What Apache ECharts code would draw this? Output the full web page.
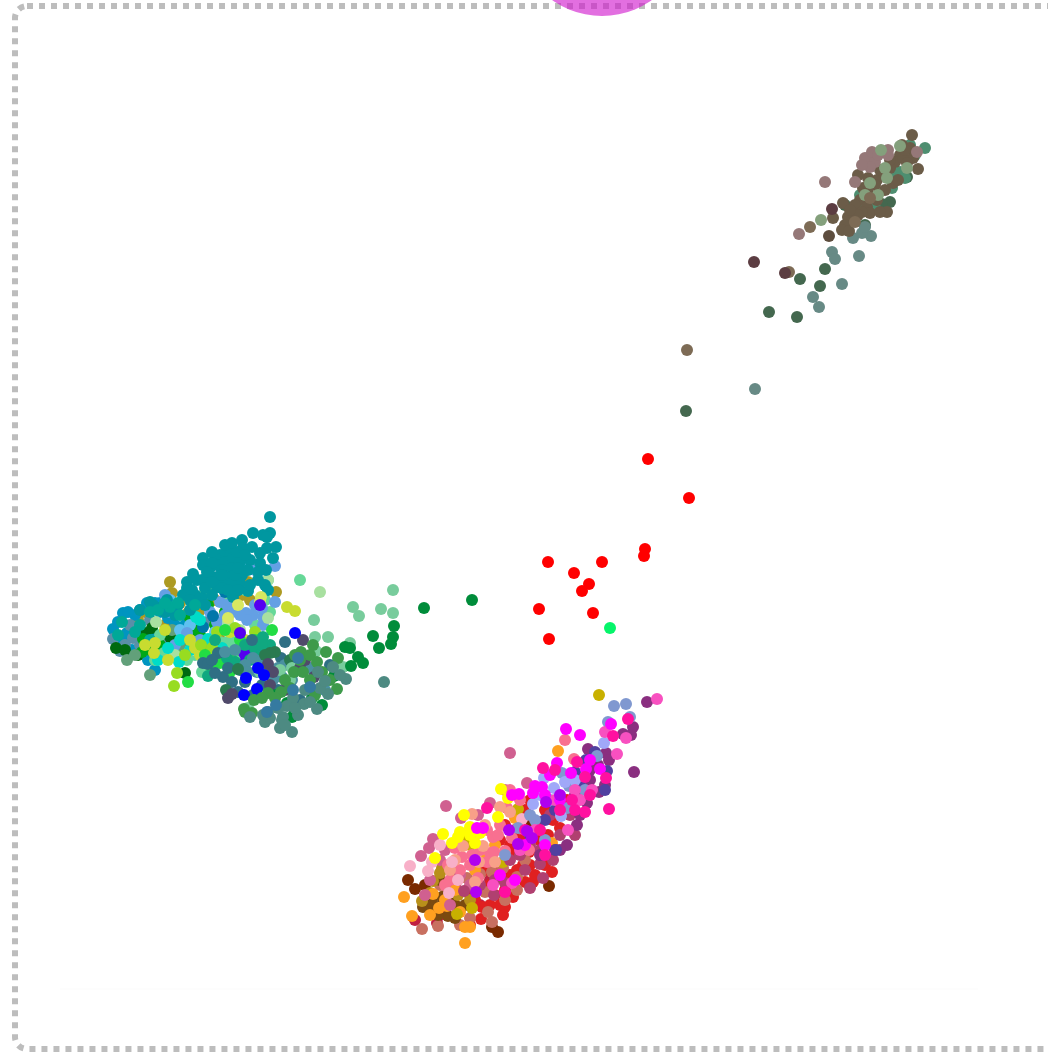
<!DOCTYPE html>
<html><head><meta charset="utf-8">
<style>html,body{margin:0;padding:0;background:#fff}#c{width:1048px;height:1052px}</style>
<script src="https://cdn.jsdelivr.net/npm/echarts@6/dist/echarts.min.js"></script></head>
<body><div id="c"></div>
<script>
// Left cluster, bottom layers
const gold=[[170,582],[172,593],[180,603],[188,622],[138,620],[174,647],[152,622],[207,647],[188,613],[276,592],[242,595],[248,582],[195,635],[215,600],[160,640],[145,612],[130,635],[220,640],[250,600],[178,632],[235,630],[200,610],[165,625]];
const ocean=[[123,613],[113,629],[122,639],[152,632],[168,618],[140,610],[147,603],[142,650],[127,633],[155,603],[135,615],[185,625],[160,612],[118,622],[132,650],[148,640],[175,625],[128,612],[138,628],[160,603],[148,660],[155,670]];
const slateTeal=[[113,639],[133,638],[120,651],[130,625],[150,620],[165,640],[125,645],[180,640],[195,625],[140,645],[205,640],[215,650],[210,620]];
const darkGreen=[[145,633],[116,648],[138,655],[170,637],[185,673],[152,628],[125,650]];
const leafGreen=[[143,639],[142,652],[208,605],[197,630],[185,640],[215,625],[235,610],[160,645],[175,650],[200,635],[225,612],[150,650],[190,618]];
const sage=[[127,660],[150,675],[172,630],[180,645],[135,655]];
const mint=[[300,580],[160,635],[164,653],[187,660],[202,672],[227,642],[220,642],[235,642],[212,590],[225,600],[268,580],[240,655],[265,600],[155,660],[195,655],[230,650],[255,625],[270,612],[205,592],[245,590],[215,660]];
const paleGreen=[[156,622],[193,650],[228,622],[320,592],[268,618],[175,655],[240,630],[268,580]];
const aqua=[[158,660],[179,662],[180,640],[208,639],[196,617],[240,568],[190,650],[168,648],[200,620],[222,648]];
const cornflower=[[227,605],[220,602],[246,613],[253,615],[263,625],[217,622],[187,633],[263,617],[275,602],[247,620],[275,566],[255,570],[240,615],[165,595],[200,640],[240,568],[255,605],[232,612],[210,612],[262,608],[195,642],[175,645],[225,615],[170,612]];
const skyBlue=[[180,630],[242,568],[170,600],[212,578],[190,625],[215,632]];
const deepBlue=[[213,616],[203,627],[225,592],[238,590]];
const chartreuse=[[154,653],[155,643],[287,607],[295,611],[200,655],[165,630],[245,640],[190,640],[168,660],[215,640],[230,632],[195,648],[145,645]];
const lime=[[177,673],[174,686],[217,632],[255,632],[201,645],[212,648],[185,655],[235,628]];
const brightGreen=[[188,682],[220,663],[272,630],[230,672],[246,647],[205,655],[240,650],[225,630],[260,640],[212,668],[255,640],[268,650],[240,640],[232,660]];
const lemon=[[261,597],[238,605],[260,602],[228,618]];
const tealMain=[[270,517],[270,533],[263,535],[253,533],[267,537],[242,540],[276,547],[267,548],[260,553],[273,558],[252,547],[243,548],[230,548],[228,553],[220,555],[215,558],[203,558],[203,565],[217,565],[225,562],[233,558],[240,562],[210,568],[222,570],[232,568],[242,575],[217,577],[228,577],[210,577],[193,574],[202,580],[187,582],[187,588],[183,595],[217,587],[223,585],[233,583],[240,583],[260,563],[266,570],[258,580],[265,585],[248,591],[233,597],[202,598],[195,595],[222,588],[167,600],[158,608],[150,602],[140,610],[153,605],[178,605],[190,610],[205,605],[175,615],[212,563],[237,552],[250,560],[248,570],[235,575],[225,545],[232,543],[207,572],[197,580],[192,590],[205,588],[212,582],[222,575],[238,568],[245,555],[228,590],[212,595],[190,600],[172,608],[165,612],[212,552],[258,572],[250,585],[268,590],[238,590]];
const teal=[[140,625],[158,610],[122,622],[170,607],[178,603],[150,640],[135,632],[150,612],[180,615],[118,635],[165,603],[195,605]];
const violet=[[240,633],[260,605],[244,653],[244,663],[252,648]];
// Lower right lobe of left cluster
const greenTeal=[[263,637],[255,649],[227,658],[208,676],[262,652],[270,645],[215,640],[245,645],[235,662],[250,660],[262,645]];
const petrol=[[285,642],[218,653],[203,663],[208,664],[223,677],[232,682],[215,673],[252,640],[281,658],[240,670],[253,695],[228,668],[212,660],[245,682],[262,685],[278,690],[238,692],[300,700],[330,665]];
const steel=[[253,658],[260,665],[257,672],[282,677],[273,680],[235,650],[262,660],[285,665],[268,670],[245,665],[248,672],[225,652],[278,668],[292,680],[325,690],[310,668]];
const pine=[[275,652],[270,653],[238,669],[226,690],[265,655],[290,660]];
const mintSoft=[[393,590],[353,607],[359,616],[381,609],[393,613],[314,620],[315,637],[328,637],[316,651],[343,667],[350,643],[292,668],[248,708],[260,672],[290,680],[300,670],[280,670]];
const navy=[[228,698],[232,694],[303,640],[268,664],[273,672],[314,677],[300,668],[270,685],[285,690],[305,660]];
const blue=[[295,633],[246,678],[244,695],[257,689],[264,675],[258,668]];
const forest=[[301,652],[294,672],[303,672],[322,672],[317,662],[290,688],[281,692],[268,693],[254,700],[262,698],[244,709],[252,713],[326,652],[337,689],[338,658],[313,645],[300,660],[310,680],[330,680],[285,680],[315,695],[275,698],[295,655],[310,655],[245,712]];
const emerald=[[394,626],[393,637],[391,644],[373,636],[379,648],[345,647],[350,648],[358,657],[363,663],[351,666],[334,676],[312,698],[292,717],[276,695],[322,705],[287,703],[424,608],[472,600],[295,712]];
const grayTeal=[[292,732],[280,728],[265,722],[270,718],[250,717],[283,717],[298,715],[317,709],[304,704],[328,694],[346,679],[320,688],[325,681],[293,698],[287,706],[333,667],[384,682],[282,720],[263,715],[305,690],[278,708],[268,712],[295,708],[340,675],[310,702],[285,725],[318,672]];
const denim=[[310,687],[267,712],[276,705],[298,658],[293,690]];
// Centre points
const red=[[648,459],[689,498],[645,549],[644,556],[548,562],[602,562],[574,573],[589,584],[582,591],[539,609],[593,613],[549,639]];
const spring=[[610,628]];
// Upper right cluster
const moss=[[769,312],[797,317],[800,279],[820,286],[825,269],[686,411],[890,202],[882,204],[865,225],[853,218],[907,177],[845,205]];
const ash=[[813,297],[819,307],[842,284],[859,256],[832,252],[835,259],[853,238],[871,236],[862,233],[865,227],[755,389]];
const jade=[[925,148],[900,172],[892,188],[895,173],[910,145],[860,195],[875,208],[905,178],[915,155],[858,208]];
const rose=[[825,182],[799,234],[855,182],[870,157],[865,158],[875,162],[870,167],[872,152],[888,150],[888,155],[917,152],[862,165],[878,155]];
const fern=[[881,150],[900,146],[887,178],[878,195],[907,168],[870,183],[821,220],[865,195],[885,168]];
const umber=[[912,135],[918,169],[902,145],[910,148],[913,158],[900,155],[895,162],[890,168],[883,175],[877,180],[868,178],[858,175],[863,188],[868,193],[860,200],[855,205],[843,203],[867,207],[870,213],[862,212],[887,212],[848,217],[833,218],[845,225],[842,230],[849,231],[903,158],[907,163],[877,200],[885,190],[870,197],[853,213],[893,183],[898,180],[880,170],[905,150],[890,160],[875,185],[858,215],[850,210],[880,212]];
const taupe=[[687,350],[789,272],[810,227],[870,198],[855,222]];
const bark=[[829,236]];
const maroon=[[754,262],[832,209],[785,273]];
// Lower cluster
const ember=[[549,886],[498,932],[492,927],[408,880],[415,889],[530,823],[425,885]];
const crimson=[[415,920],[437,923],[480,905],[470,895],[490,880],[455,885],[440,915]];
const scarlet=[[545,810],[529,852],[515,853],[523,865],[538,822],[503,915],[482,907],[481,919],[533,882],[525,882],[513,897],[505,907],[553,820],[567,800],[517,870],[500,840],[510,875],[490,885],[540,840],[520,840],[495,870],[505,825],[530,800],[510,845],[530,865],[495,895],[515,830],[485,870],[525,810],[545,865],[548,835],[505,890],[475,900],[535,875],[490,905],[560,828],[552,872],[470,925],[500,905]];
const copper=[[492,922],[488,912],[505,900],[517,890],[517,877],[422,929],[438,926],[492,872],[467,878],[480,874],[503,868],[440,885],[470,918],[455,905],[445,895],[485,892],[460,925],[525,860]];
const umberBrown=[[430,909],[448,916],[423,907],[432,902],[442,897],[455,905],[440,880],[425,900],[450,895],[465,905],[438,915],[455,918]];
const ochre=[[442,868],[433,881],[422,901],[470,900],[458,895],[440,873],[475,888],[430,893]];
const amber=[[404,897],[412,916],[433,894],[439,908],[447,906],[465,943],[470,927],[465,927],[457,873],[558,751],[552,843],[485,860],[455,890],[475,870],[445,900],[460,912],[430,915],[515,818],[495,845]];
const olive=[[457,914],[472,908],[599,695],[518,809],[470,845],[503,862],[465,840]];
const dusty=[[510,753],[446,806],[433,839],[429,848],[421,856],[490,803],[527,783],[461,818],[425,895],[445,850],[460,875],[440,860],[478,815],[505,790],[430,880],[470,885],[450,905]];
const wine=[[543,878],[530,888],[553,860],[540,864],[505,883],[494,895],[464,891],[510,860],[525,870],[480,885],[540,850],[560,835],[495,880],[520,855],[550,815],[570,815],[575,835],[530,845]];
const coral=[[470,865],[490,853],[505,851],[494,852],[493,837],[472,855],[450,880],[487,862],[462,857],[529,850],[507,808],[565,740],[574,759],[480,850],[460,870],[475,835],[448,865],[512,838],[498,835],[487,830],[520,800],[455,848],[478,878],[500,825],[445,885],[510,790]];
const peach=[[472,814],[463,846],[483,846],[479,862],[475,882],[500,807],[485,825],[450,870],[510,812],[455,860],[495,862],[470,830]];
const blush=[[410,866],[428,871],[452,862],[449,893],[432,862],[522,819],[440,845],[458,880]];
const yellow=[[501,789],[498,817],[443,834],[464,815],[460,832],[470,827],[452,843],[435,858],[475,843],[508,798],[480,833],[458,837],[470,835]];
const plum=[[647,702],[633,727],[623,734],[631,735],[588,749],[606,753],[609,760],[587,803],[599,792],[634,772],[577,825],[567,845],[590,770],[575,795],[555,850],[605,785],[590,780],[580,815],[540,855],[560,850],[598,765]];
const indigo=[[607,771],[586,760],[545,820],[595,752],[556,850],[580,785],[530,835],[555,810],[575,772],[605,790]];
const periwinkle=[[614,706],[626,704],[608,722],[630,717],[597,756],[562,773],[569,786],[567,808],[518,828],[550,800],[505,855],[545,840],[535,820],[585,790],[530,815]];
const lavender=[[604,743],[544,778],[565,782],[554,788],[533,804],[561,816],[540,795],[575,780]];
const orchid=[[657,699],[605,732],[617,754],[592,790],[626,738],[512,883],[493,885],[575,790],[555,800],[535,830],[580,800],[568,830],[520,850]];
const magenta=[[566,729],[580,735],[611,724],[557,763],[571,773],[586,769],[600,769],[512,795],[519,794],[533,793],[535,786],[542,787],[477,828],[483,828],[560,800],[545,795],[525,845],[550,775],[590,760],[500,875],[545,845],[515,880]];
const hotPink=[[628,719],[613,736],[577,762],[543,768],[585,777],[606,778],[609,809],[585,812],[487,808],[505,892],[540,830],[560,810],[575,810],[545,855],[525,830],[555,770],[590,795],[572,800]];
const purple=[[546,802],[509,830],[518,844],[476,892],[527,831],[532,838],[560,795],[475,860]];

const layers=[
 [gold,'#ad9a22'],[ocean,'#0095c0'],[slateTeal,'#5a8fa8'],[darkGreen,'#006a10'],[leafGreen,'#00a818'],[sage,'#62a07a'],
 [mint,'#66d898'],[skyBlue,'#60c0f0'],[cornflower,'#64a0e4'],[deepBlue,'#0077aa'],[paleGreen,'#a8e0a0'],[aqua,'#00dcc8'],
 [tealMain,'#0097a0'],[teal,'#00a898'],[chartreuse,'#c8dc30'],[lime,'#98dc20'],[brightGreen,'#22dd44'],[lemon,'#d8e860'],[violet,'#5500f0'],
 [greenTeal,'#10a880'],[petrol,'#2f6f84'],[steel,'#4a90a0'],[pine,'#2a7a50'],[mintSoft,'#78cc9c'],[navy,'#504a6a'],[blue,'#0000ff'],
 [emerald,'#008c3a'],[forest,'#3e9a4a'],[grayTeal,'#4d8a82'],[denim,'#357aa0'],
 [red,'#ff0000'],[spring,'#05f56a'],
 [moss,'#44684f'],[ash,'#678a85'],[jade,'#4e8e70'],[umber,'#6b5c48'],[rose,'#957878'],[fern,'#84a07c'],[taupe,'#7d6b55'],[bark,'#5d4d3e'],[maroon,'#5c3d42'],
 [ember,'#7a2a00'],[crimson,'#c02040'],[scarlet,'#e02020'],[copper,'#c87060'],[umberBrown,'#7a4a10'],[ochre,'#b8901a'],[amber,'#ffa020'],[olive,'#c8b000'],
 [dusty,'#d06090'],[wine,'#b04070'],[coral,'#f87090'],[peach,'#f8a088'],[blush,'#f8b0c8'],[yellow,'#ffff00'],
 [plum,'#8a2f80'],[indigo,'#5040a0'],[periwinkle,'#8098d0'],[lavender,'#a0a8f8'],[orchid,'#f850c0'],[magenta,'#ff00ff'],[hotPink,'#ff10a0'],[purple,'#b000f0']
];
const bubble=[[602,-70]];

const chart=echarts.init(document.getElementById('c'),null,{renderer:'canvas'});
chart.setOption({
 animation:false,
 grid:{left:0,right:0,top:0,bottom:0},
 xAxis:{type:'value',min:0,max:1048,show:false},
 yAxis:{type:'value',min:0,max:1052,inverse:true,show:false},
 graphic:[
  {type:'line',z:0,shape:{x1:60,y1:989,x2:978,y2:989},style:{stroke:'#fbfbfb',lineWidth:1}},
  {type:'rect',z:1,shape:{x:15,y:6,width:1060,height:1043,r:12},style:{fill:'none',stroke:'#bdbdbd',lineWidth:6,lineDash:[6,6]}}
 ],
 series:layers.map(([data,color])=>({type:'scatter',data,symbolSize:12,clip:false,z:3,itemStyle:{color,opacity:1}}))
  .concat([{type:'scatter',data:bubble,symbolSize:172,clip:false,z:4,itemStyle:{color:'#d017cd',opacity:.62}}])
});
</script></body></html>
